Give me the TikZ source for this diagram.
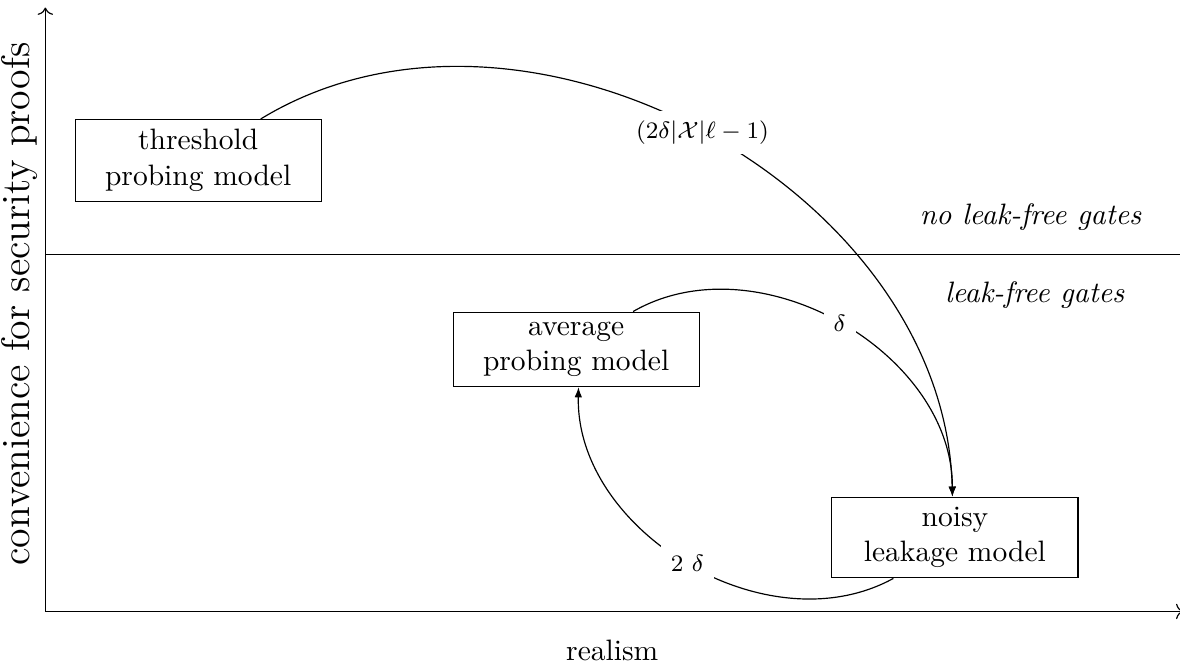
\documentclass[tikz,border=0pt]{standalone}
\usepackage{amsmath,amssymb}
\usepackage{tikz}
\usetikzlibrary{arrows.meta, positioning}

\begin{document}
\begin{tikzpicture}[
    box/.style={draw, align=center, minimum width=2.93cm},
    lbl/.style={fill=white, font=\footnotesize},
    gate/.style={font=\itshape},
    arrow/.style={-{Latex[length=1.2mm]}},
    axis/.style={->}
  ]
    \useasboundingbox (-0.54,-0.6) rectangle (13.51,7.28);
    \coordinate (origin) at (0,0);
    \coordinate (xend) at (13.55,0);
    \coordinate (yend) at (0,7.19);
    \coordinate (sepl) at (0,4.25);
    \coordinate (sepr) at (13.51,4.25);
    \draw[axis] (origin) -- (xend);
    \draw[axis] (origin) -- (yend);
    \draw (sepl) -- (sepr);
    \node (realism) at (6.75,-0.46) {realism};
    \node[rotate=90, font=\fontsize{13.5}{16}\selectfont] (convenience) at (-0.31,3.66) {convenience for security proofs};
    \node[gate] (noleak) at (11.73,4.69) {no leak-free gates};
    \node[gate] (leak) at (11.78,3.77) {leak-free gates};
    \node[box] (threshold) at (1.82,5.37) {threshold\\probing model};
    \node[box] (average) at (6.32,3.12) {average\\probing model};
    \node[box] (noisy) at (10.83,0.88) {noisy\\leakage model};
    \draw[arrow] (threshold) to[bend left=60] node[lbl] (tlabel) {$(2\delta|\mathcal{X}|\ell-1)$} (noisy);
    \draw[arrow] (average) to[bend left=60] node[lbl] (alabel) {$\delta$} (noisy);
    \draw[arrow] (noisy) to[bend left=60] node[lbl] (nlabel) {$2\ \delta$} (average);
\end{tikzpicture}
\end{document}
